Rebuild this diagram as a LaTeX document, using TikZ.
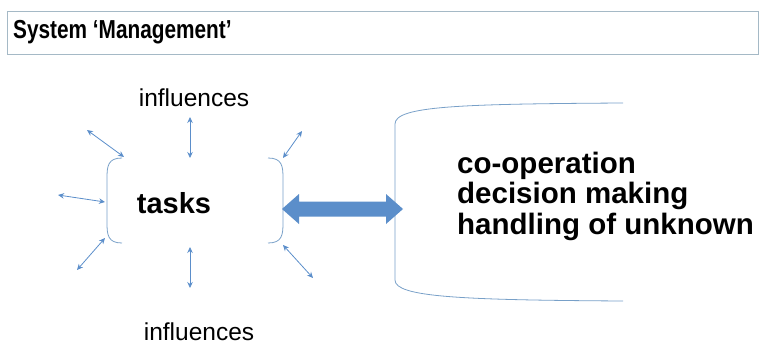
\documentclass[tikz,border=0pt]{standalone}
\usepackage{fontspec}
\setmainfont{Liberation Sans}
\usetikzlibrary{arrows.meta}
\definecolor{linkblue}{RGB}{91,142,202}
\definecolor{framegray}{RGB}{165,185,198}
\definecolor{bracketblue}{RGB}{120,160,200}
\tikzset{
  titlebox/.style={draw=framegray,line width=0.8pt},
  bracket/.style={draw=bracketblue,line width=0.8pt},
  influence/.style={draw=linkblue,line width=0.8pt,{Stealth[length=6pt,width=5.5pt]}-{Stealth[length=6pt,width=5.5pt]}},
  bigarrow/.style={fill=linkblue,draw=none},
  lbl/.style={inner sep=0pt,font=\fontsize{24.5}{28}\selectfont},
  boldlbl/.style={inner sep=0pt,font=\bfseries\fontsize{29.5}{30}\selectfont,align=left},
}
\begin{document}
\begin{tikzpicture}[x=1pt,y=-1pt]
\useasboundingbox (0,0) rectangle (761,345);

% title bar
\draw[titlebox] (7,11) rectangle (758,54);
\node[anchor=west,inner sep=0pt,font=\bfseries\fontsize{26}{28}\selectfont] (title) at (13,32)
  {\scalebox{0.8}[1]{System ‘Management’}};

% tasks and its bracket pair
\node[inner sep=0pt,font=\bfseries\fontsize{29}{32}\selectfont] (tasks) at (174,203) {tasks};
\draw[bracket] (122,158) .. controls (108,158) and (107,166) .. (107,178) -- (107,223)
   .. controls (107,235) and (108,243) .. (122,243);
\draw[bracket] (268,158) .. controls (282,158) and (283,166) .. (283,178) -- (283,223)
   .. controls (283,235) and (282,243) .. (268,243);

% influence arrows around the tasks
\coordinate (tl1) at (87,130);  \coordinate (tl2) at (124,157);
\coordinate (tc1) at (190,117); \coordinate (tc2) at (190,158);
\coordinate (tr1) at (302,131); \coordinate (tr2) at (283,158);
\coordinate (ml1) at (58,195);  \coordinate (ml2) at (105,202);
\coordinate (bl1) at (77,270);  \coordinate (bl2) at (105,238);
\coordinate (bc1) at (190,247); \coordinate (bc2) at (190,288);
\coordinate (br1) at (283,245); \coordinate (br2) at (313,278);
\draw[influence] (tl1) -- (tl2);
\draw[influence] (tc1) -- (tc2);
\draw[influence] (tr1) -- (tr2);
\draw[influence] (ml1) -- (ml2);
\draw[influence] (bl1) -- (bl2);
\draw[influence] (bc1) -- (bc2);
\draw[influence] (br1) -- (br2);

\node[lbl] (inftop) at (194,98) {influences};
\node[lbl] (infbot) at (199,332) {influences};

% right-hand group
\draw[bracket] (623,103) .. controls (460,104) and (395,106) .. (395,124) -- (395,280)
   .. controls (395,297) and (460,300) .. (623,301);
\node[boldlbl,anchor=west] (coop) at (457,166) {co-operation};
\node[boldlbl,anchor=west] (dec) at (457,196) {decision making};
\node[boldlbl,anchor=west] (unk) at (457,227) {handling of unknown};

% two-way link between the groups
\coordinate (la) at (282,209);
\coordinate (ra) at (403,209);
\fill[bigarrow] (la) -- ++(17,-15) -- ++(0,7.5) -- (386,201.5) -- (386,194) -- (ra)
   -- (386,224) -- (386,216.5) -- (299,216.5) -- (299,224) -- cycle;
\end{tikzpicture}
\end{document}
